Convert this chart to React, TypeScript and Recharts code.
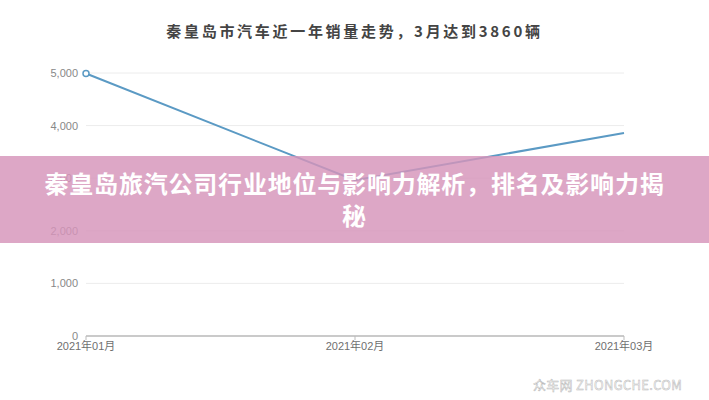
import React from 'react';
import { LineChart, Line, XAxis, YAxis, CartesianGrid } from 'recharts';

const months = ['2021年01月', '2021年02月', '2021年03月'];
const sales = [4990, 2960, 3860];
const yTicks = [0, 1000, 2000, 3000, 4000, 5000];
const titleText = '秦皇岛市汽车近一年销量走势，3月达到3860辆';
const bannerText = '秦皇岛旅汽公司行业地位与影响力解析，排名及影响力揭秘';
const watermarkText = '众车网 ZHONGCHE.COM';

const data = months.map((m, i) => ({ month: m, value: sales[i] }));

const FirstDot = (props: any) => {
  const { cx, cy, index } = props;
  if (index !== 0) return <g key={`d${index}`} />;
  return <circle key={`d${index}`} cx={cx} cy={cy} r={3} fill="#fff" stroke="#5b9ac4" strokeWidth={1.5} />;
};

export default function App() {
  return (
    <div style={{ position: 'absolute', left: 0, top: 0, width: 709, height: 400, background: '#fff', overflow: 'hidden' }}>
      <div
        style={{
          position: 'absolute', left: 0, top: 21, width: 709, textAlign: 'center',
          fontFamily: '"Noto Sans CJK SC", sans-serif', fontWeight: 700, fontSize: 15,
          letterSpacing: 2.7, color: '#444', lineHeight: '20px',
        }}
      >
        {titleText}
      </div>
      <LineChart width={709} height={400} data={data} margin={{ top: 73, right: 85, left: 0, bottom: 34 }}>
        <CartesianGrid horizontal vertical={false} stroke="#ececec" strokeWidth={1} />
        <XAxis
          dataKey="month"
          axisLine={{ stroke: '#bbb', strokeWidth: 1.5 }}
          tickLine={{ stroke: '#bbb' }}
          tickSize={4}
          height={30}
          interval={0}
          tick={{ fill: '#6f6f6f', fontSize: 11, fontFamily: '"Liberation Sans", "Noto Sans CJK SC", sans-serif' }}
        />
        <YAxis
          width={86}
          domain={[0, 5000]}
          ticks={yTicks}
          axisLine={false}
          tickLine={false}
          tickFormatter={(v: number) => v.toLocaleString('en-US')}
          tick={{ fill: '#888', fontSize: 11, fontFamily: '"Liberation Sans", sans-serif' }}
        />
        <Line
          type="linear"
          dataKey="value"
          stroke="#5b9ac4"
          strokeWidth={2}
          dot={<FirstDot />}
          activeDot={false}
          isAnimationActive={false}
        />
      </LineChart>
      <div
        style={{
          position: 'absolute', left: 0, top: 156, width: 709, height: 87,
          background: 'rgba(214,148,186,0.82)', boxSizing: 'border-box', paddingTop: 11,
        }}
      >
        <div
          style={{
            width: 634, margin: '0 auto', textAlign: 'center', color: '#fff',
            fontFamily: '"Noto Sans CJK SC", sans-serif', fontWeight: 700, fontSize: 24,
            letterSpacing: 0.8, lineHeight: '32px',
          }}
        >
          {bannerText}
        </div>
      </div>
      <div
        style={{
          position: 'absolute', left: 533, top: 377, width: 160, fontSize: 13,
          fontFamily: '"Noto Sans CJK SC", "Liberation Sans", sans-serif', color: '#fff',
          WebkitTextStroke: '0.5px #b8b8b8', letterSpacing: 0.3, whiteSpace: 'nowrap', lineHeight: '16px',
        }}
      >
        {watermarkText}
      </div>
    </div>
  );
}
